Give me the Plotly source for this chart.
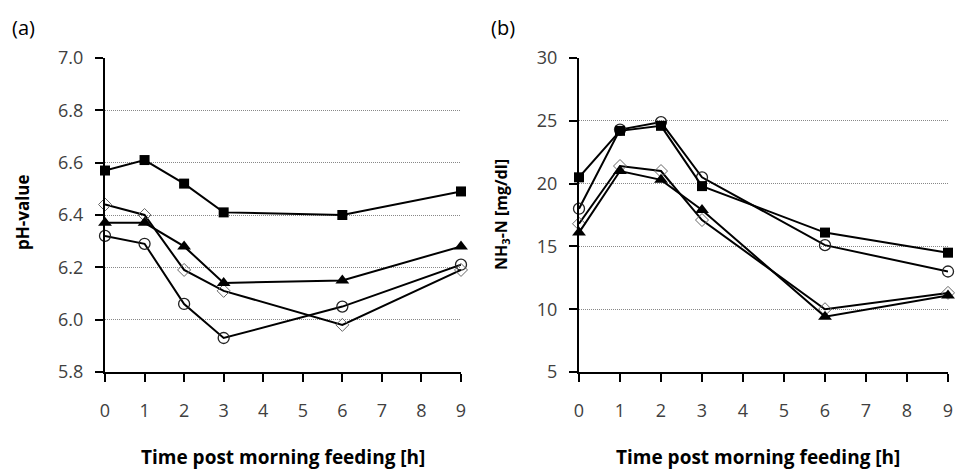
import plotly.graph_objects as go

W, H = 955, 470
hours = [0, 1, 2, 3, 6, 9]

# Panel (a): pH-value
ph_square = [6.57, 6.61, 6.52, 6.41, 6.40, 6.49]
ph_diamond = [6.44, 6.40, 6.19, 6.11, 5.98, 6.19]
ph_triangle = [6.37, 6.37, 6.28, 6.14, 6.15, 6.28]
ph_circle = [6.32, 6.29, 6.06, 5.93, 6.05, 6.21]

# Panel (b): NH3-N [mg/dl]
nh_square = [20.5, 24.2, 24.6, 19.8, 16.1, 14.5]
nh_circle = [18.0, 24.3, 24.9, 20.5, 15.1, 13.0]
nh_diamond = [16.8, 21.4, 21.0, 17.1, 10.0, 11.3]
nh_triangle = [16.1, 21.0, 20.3, 17.9, 9.4, 11.1]

x_ticks = list(range(0, 10))
ph_ticks = [5.8, 6.0, 6.2, 6.4, 6.6, 6.8, 7.0]
nh_ticks = [5, 10, 15, 20, 25, 30]

styles = {
    "square": dict(symbol="square", size=10, color="black", line=dict(width=0)),
    "triangle": dict(symbol="triangle-up", size=12, color="black", line=dict(width=0)),
    "circle": dict(symbol="circle-open", size=11, color="#222222", line=dict(width=1.3)),
    "diamond": dict(symbol="diamond-open", size=10, color="#666666", line=dict(width=1)),
}

fig = go.Figure()

def add(y, kind, xa, ya):
    fig.add_trace(go.Scatter(
        x=hours, y=y, mode="lines+markers", xaxis=xa, yaxis=ya,
        line=dict(color="black", width=2), marker=styles[kind],
        cliponaxis=False, showlegend=False, hoverinfo="skip"))

add(ph_circle, "circle", "x", "y")
add(ph_diamond, "diamond", "x", "y")
add(ph_triangle, "triangle", "x", "y")
add(ph_square, "square", "x", "y")

add(nh_diamond, "diamond", "x2", "y2")
add(nh_triangle, "triangle", "x2", "y2")
add(nh_circle, "circle", "x2", "y2")
add(nh_square, "square", "x2", "y2")

FONT = "Open Sans"
tickfont = dict(family=FONT, size=18, color="#404040")

def px(x):
    return x / W

def py(y):
    return 1 - y / H

ydom = [py(372), py(58)]
xcommon = dict(range=[0, 9], tickvals=x_ticks, showgrid=False, zeroline=False,
               showline=True, linecolor="black", linewidth=2, ticks="outside",
               ticklen=8, tickwidth=2, tickcolor="black", tickfont=tickfont,
               ticklabelstandoff=13, automargin=False)
ycommon = dict(showgrid=True, gridcolor="#888888", griddash="1px,1px", gridwidth=1,
               zeroline=False, showline=True, linecolor="black", linewidth=2,
               ticks="outside", ticklen=8, tickwidth=2, tickcolor="black",
               tickfont=tickfont, ticklabelstandoff=8, domain=ydom, automargin=False)

fig.update_layout(
    template="none",
    width=W, height=H,
    margin=dict(l=0, r=0, t=0, b=0, autoexpand=False),
    paper_bgcolor="white", plot_bgcolor="white",
    xaxis=dict(domain=[px(105), px(461)], anchor="y", **xcommon),
    yaxis=dict(range=[5.8, 7.0], tickvals=ph_ticks, tickformat=".1f", anchor="x", **ycommon),
    xaxis2=dict(domain=[px(579), px(948)], anchor="y2", **xcommon),
    yaxis2=dict(range=[5, 30], tickvals=nh_ticks, anchor="x2", **ycommon),
)

def ann(text, x, y, size, bold=False, angle=0, color="black"):
    fig.add_annotation(text=f"<b>{text}</b>" if bold else text,
                       x=px(x), y=py(y), xref="paper", yref="paper",
                       xanchor="center", yanchor="middle", showarrow=False,
                       textangle=angle, font=dict(family=FONT, size=size, color=color))

ann("(a)", 23, 28, 20)
ann("(b)", 503, 28, 20)
ann("Time post morning feeding [h]", 283, 457, 19, bold=True)
ann("Time post morning feeding [h]", 758, 457, 19, bold=True)
ann("pH-value", 22, 212, 17, bold=True, angle=-90)
ann("NH<sub>3</sub>-N [mg/dl]", 502, 215, 16, bold=True, angle=-90)

fig.write_html(
    "out.html",
    config={"displayModeBar": False},
    post_script="document.body.style.margin='0';document.body.style.overflow='hidden';",
)
